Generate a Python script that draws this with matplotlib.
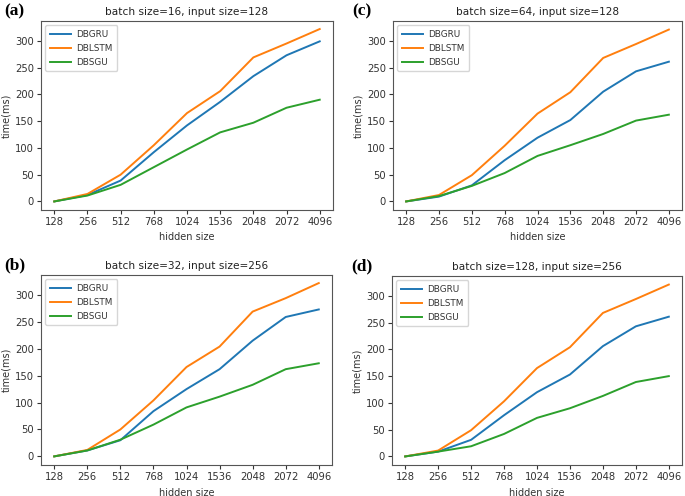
import numpy as np
import matplotlib
matplotlib.use('Agg')
import matplotlib.pyplot as plt

# hidden size categories (evenly spaced on the x axis)
hidden_sizes = ['128', '256', '512', '768', '1024', '1536', '2048', '2072', '4096']

# (a) batch size=16, input size=128
a_gru = [0, 12, 39, 92, 142, 186, 234, 273, 299]
a_lstm = [0, 14, 50, 105, 165, 206, 269, 295, 322]
a_sgu = [0, 11, 31, 64, 97, 129, 147, 175, 190]

# (b) batch size=32, input size=256
b_gru = [0, 11, 30, 84, 125, 162, 215, 259, 273]
b_lstm = [0, 12, 50, 104, 166, 204, 269, 294, 322]
b_sgu = [0, 11, 31, 59, 91, 111, 133, 162, 173]

# (c) batch size=64, input size=128
c_gru = [0, 9, 30, 77, 119, 152, 205, 243, 261]
c_lstm = [0, 12, 49, 104, 164, 204, 268, 294, 321]
c_sgu = [0, 10, 29, 53, 85, 105, 126, 151, 162]

# (d) batch size=128, input size=256
d_gru = [0, 9, 31, 77, 120, 153, 206, 243, 261]
d_lstm = [0, 11, 49, 103, 165, 204, 268, 294, 321]
d_sgu = [0, 9, 19, 42, 72, 90, 113, 139, 150]

panels = [
    ('(a)', 'batch size=16, input size=128', a_gru, a_lstm, a_sgu, [41, 21, 292, 189]),
    ('(c)', 'batch size=64, input size=128', c_gru, c_lstm, c_sgu, [393, 21, 289, 189]),
    ('(b)', 'batch size=32, input size=256', b_gru, b_lstm, b_sgu, [41, 275, 291, 190]),
    ('(d)', 'batch size=128, input size=256', d_gru, d_lstm, d_sgu, [392, 276, 290, 189]),
]

W, H = 685, 496
fig = plt.figure(figsize=(W / 100, H / 100), dpi=100)

x = np.arange(len(hidden_sizes))
for label, title, gru, lstm, sgu, (l, t, w, h) in panels:
    ax = fig.add_axes([l / W, 1 - (t + h) / H, w / W, h / H])
    ax.plot(x, gru, color='#1f77b4', lw=1.4, label='DBGRU')
    ax.plot(x, lstm, color='#ff7f0e', lw=1.4, label='DBLSTM')
    ax.plot(x, sgu, color='#2ca02c', lw=1.4, label='DBSGU')
    ax.set_xticks(x)
    ax.set_xticklabels(hidden_sizes)
    ax.set_yticks([0, 50, 100, 150, 200, 250, 300])
    ax.set_xlim(-0.4, 8.4)
    ax.set_ylim(-16, 337)
    ax.tick_params(labelsize=7.2, length=3, pad=2, colors='#333333')
    ax.set_xlabel('hidden size', fontsize=7, labelpad=4, color='#333333')
    ax.set_ylabel('time(ms)', fontsize=7, labelpad=3, color='#333333')
    ax.set_title(title, fontsize=7.6, pad=4, color='#222222')
    for s in ax.spines.values():
        s.set_color('#555555')
    leg = ax.legend(loc='upper left', fontsize=6.4, handlelength=2.4, borderpad=0.5,
                    labelspacing=0.55, handletextpad=0.6)
    for txt in leg.get_texts():
        txt.set_color('#333333')
    # panel letter
    px = (l - 37) / W if label in ('(a)', '(b)') else (l - 41) / W
    fig.text(px, 1 - (t - 10) / H, label, fontsize=12.5, fontweight='bold',
             family='Liberation Serif', va='center', ha='left')

fig.savefig('out.png', dpi=100)
